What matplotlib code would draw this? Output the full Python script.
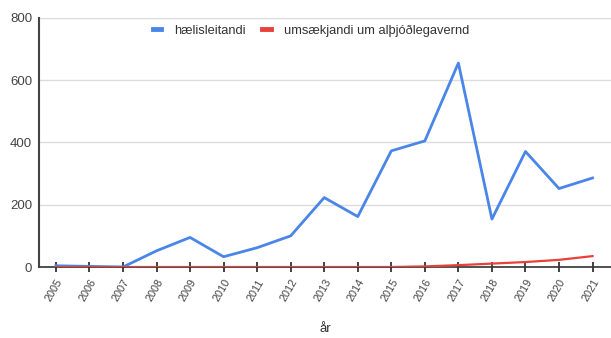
import matplotlib.pyplot as plt

# Fjöldi eftir árum
ar = ["2005", "2006", "2007", "2008", "2009", "2010", "2011", "2012", "2013",
      "2014", "2015", "2016", "2017", "2018", "2019", "2020", "2021"]
haelisleitandi = [4, 2, 0, 52, 95, 33, 62, 100, 223, 162, 373, 405, 655, 154, 371, 252, 286]
umsaekjandi = [0, 0, 0, 0, 0, 0, 0, 0, 0, 0, 0, 2, 6, 11, 16, 23, 35]

plt.rcParams['font.family'] = ['Liberation Sans', 'DejaVu Sans']

fig = plt.figure(figsize=(6.11, 3.38), dpi=100)
ax = fig.add_axes([0.064, 0.21, 0.936, 0.737])

x = range(len(ar))
ax.plot(x, haelisleitandi, color="#4a86e8", lw=2, label="hælisleitandi", zorder=3)
ax.plot(x, umsaekjandi, color="#e8403a", lw=1.6, label="umsækjandi um alþjóðlegavernd", zorder=4)

ax.set_xlim(-0.5, 16.55)
ax.set_ylim(0, 800)
ax.set_yticks([0, 200, 400, 600, 800])
ax.yaxis.grid(True, color="#dcdcdc", lw=1)
ax.set_axisbelow(True)

for s in ["top", "right"]:
    ax.spines[s].set_visible(False)
ax.spines["left"].set_color("#444444")
ax.spines["left"].set_linewidth(1.5)
ax.spines["bottom"].set_color("#333333")
ax.spines["bottom"].set_linewidth(1.2)
ax.spines["bottom"].set_zorder(2)

ax.set_xticks(list(x))
ax.set_xticklabels(ar, rotation=60, ha="right", va="top", rotation_mode="anchor")
ax.tick_params(axis="x", direction="inout", length=7, width=1.2, color="#222222",
               labelsize=7.8, labelcolor="#444444", pad=4)
ax.tick_params(axis="y", length=0, labelsize=9.5, labelcolor="#444444", pad=5)

ax.set_xlabel("år", fontsize=9.5, color="#333333", labelpad=14)

ax.legend(loc="upper center", bbox_to_anchor=(0.475, 1.02), ncol=2, frameon=False,
          fontsize=9.3, labelcolor="#333333", handlelength=0.65, handletextpad=1.0,
          columnspacing=1.3)
leg = ax.get_legend()
for h in leg.get_lines():
    h.set_linewidth(3.5)

fig.savefig("out.png", dpi=100)
